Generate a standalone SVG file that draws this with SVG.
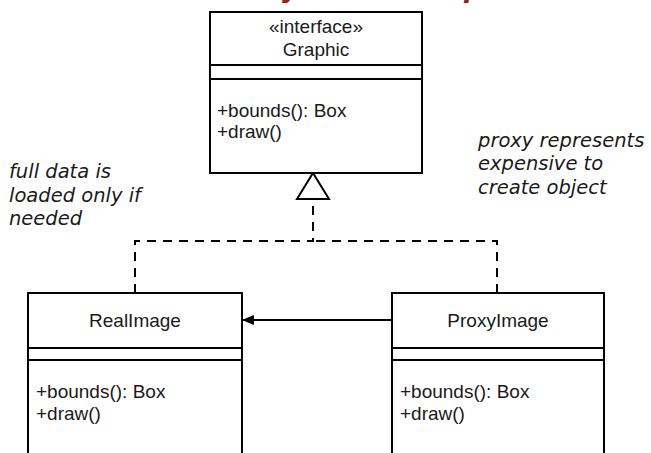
<svg xmlns="http://www.w3.org/2000/svg" width="651" height="453" viewBox="0 0 651 453">
  <style>
    .box { fill: #ffffff; stroke: #000000; stroke-width: 2; }
    .div { stroke: #000000; stroke-width: 2; fill: none; }
    .uml { font-family: "Liberation Sans", Arial, sans-serif; font-size: 19px; fill: #1a1a1a; }
    .mid { text-anchor: middle; }
    .note { font-family: "DejaVu Sans", Verdana, sans-serif; font-style: italic; font-size: 19.5px; fill: #1a1a1a; }
    .title { font-family: "DejaVu Sans", Verdana, sans-serif; font-style: italic; font-weight: bold; font-size: 26px; fill: #8b2a1b; }
    .realize { stroke: #000000; stroke-width: 2; fill: none; stroke-dasharray: 9 7; }
    .assoc { stroke: #000000; stroke-width: 2; fill: none; }
  </style>
  <defs>
    <marker id="filled" viewBox="0 0 12 10" refX="12" refY="5" markerWidth="12" markerHeight="10" markerUnits="userSpaceOnUse" orient="auto">
      <path d="M0,0 L12,5 L0,10 Z" fill="#000000"/>
    </marker>
  </defs>
  <rect width="651" height="453" fill="#ffffff"/>

  <!-- heading, mostly above the top edge -->
  <g id="title">
    <text class="title" x="282" y="-3">y</text>
    <text class="title" x="464" y="-3">p</text>
  </g>

  <!-- connectors -->
  <g id="connectors">
    <path class="realize" d="M135,293 V241 H313 V199"/>
    <path class="realize" d="M497,293 V241 H313"/>
    <path d="M313,173 L329,199 L297,199 Z" fill="#ffffff" stroke="#000000" stroke-width="2"/>
    <line class="assoc" x1="392" y1="320" x2="242" y2="320" marker-end="url(#filled)"/>
  </g>

  <!-- interface Graphic -->
  <g id="graphic">
    <rect class="box" x="210" y="12" width="212" height="161"/>
    <line class="div" x1="210" y1="65" x2="422" y2="65"/>
    <line class="div" x1="210" y1="79" x2="422" y2="79"/>
    <text class="uml mid" x="316" y="33">«interface»</text>
    <text class="uml mid" x="316" y="56">Graphic</text>
    <text class="uml" x="217" y="117">+bounds(): Box</text>
    <text class="uml" x="217" y="138">+draw()</text>
  </g>

  <!-- class RealImage -->
  <g id="realimage">
    <rect class="box" x="28" y="293" width="214" height="170"/>
    <line class="div" x1="28" y1="348" x2="242" y2="348"/>
    <line class="div" x1="28" y1="360" x2="242" y2="360"/>
    <text class="uml mid" x="135" y="327">RealImage</text>
    <text class="uml" x="36" y="398">+bounds(): Box</text>
    <text class="uml" x="36" y="420">+draw()</text>
  </g>

  <!-- class ProxyImage -->
  <g id="proxyimage">
    <rect class="box" x="392" y="293" width="212" height="170"/>
    <line class="div" x1="392" y1="348" x2="604" y2="348"/>
    <line class="div" x1="392" y1="360" x2="604" y2="360"/>
    <text class="uml mid" x="498" y="327">ProxyImage</text>
    <text class="uml" x="400" y="398">+bounds(): Box</text>
    <text class="uml" x="400" y="420">+draw()</text>
  </g>

  <!-- notes -->
  <g id="note-real">
    <text class="note" x="9" y="178">full data is</text>
    <text class="note" x="9" y="202">loaded only if</text>
    <text class="note" x="9" y="225">needed</text>
  </g>
  <g id="note-proxy">
    <text class="note" x="478" y="147">proxy represents</text>
    <text class="note" x="478" y="170">expensive to</text>
    <text class="note" x="478" y="194">create object</text>
  </g>
</svg>
